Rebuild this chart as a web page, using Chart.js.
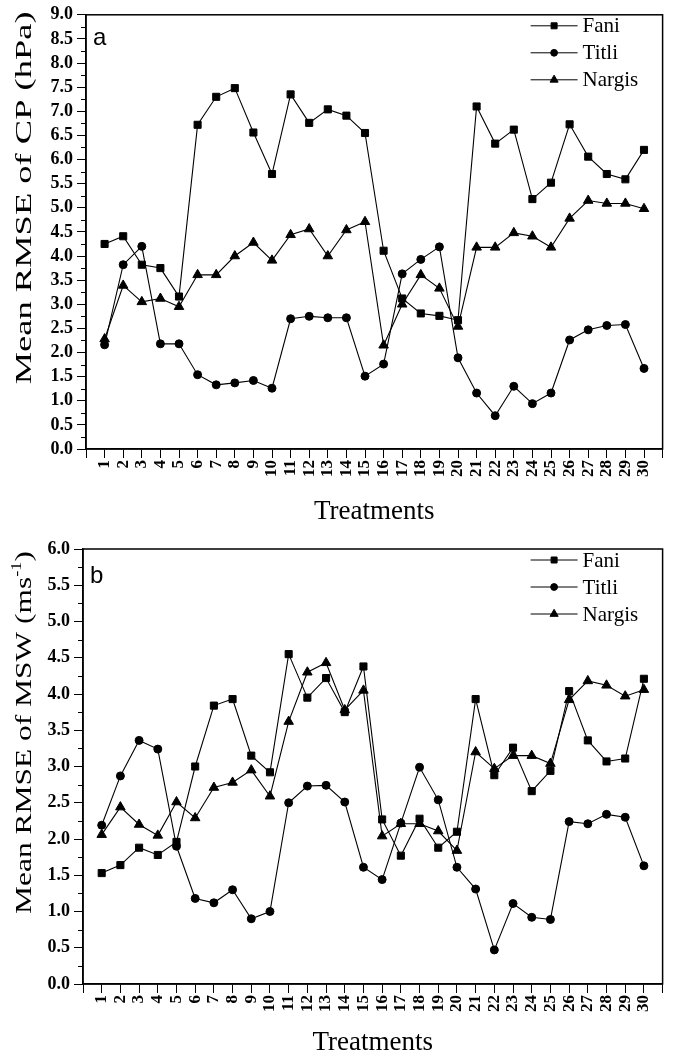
<!DOCTYPE html>
<html>
<head>
<meta charset="utf-8">
<script src="https://cdn.jsdelivr.net/npm/chart.js@4.4.1/dist/chart.umd.min.js"></script>
<style>
    html, body { margin: 0; padding: 0; background: #fff; }
    .panel { position: relative; width: 685px; }
    #panelA { height: 530px; }
    #panelB { height: 526px; }
</style>
</head>
<body>
<div class="panel" id="panelA"><canvas id="chartCP"></canvas></div>
<div class="panel" id="panelB"><canvas id="chartMSW"></canvas></div>
<script>
// ======================================================
// DATA
// ======================================================
const treatments = [1, 2, 3, 4, 5, 6, 7, 8, 9, 10, 11, 12, 13, 14, 15,
                    16, 17, 18, 19, 20, 21, 22, 23, 24, 25, 26, 27, 28, 29, 30];
const seriesNames = ['Fani', 'Titli', 'Nargis'];

// (a) Mean RMSE of CP (hPa)
const cpFani   = [4.25, 4.41, 3.82, 3.75, 3.16, 6.72, 7.30, 7.48, 6.56, 5.70,
                  7.35, 6.76, 7.04, 6.91, 6.55, 4.11, 3.12, 2.81, 2.76, 2.67,
                  7.10, 6.33, 6.62, 5.18, 5.52, 6.73, 6.06, 5.70, 5.59, 6.20];
const cpTitli  = [2.16, 3.82, 4.20, 2.18, 2.18, 1.54, 1.33, 1.37, 1.42, 1.26,
                  2.70, 2.75, 2.72, 2.72, 1.51, 1.76, 3.63, 3.93, 4.19, 1.89,
                  1.16, 0.69, 1.30, 0.94, 1.16, 2.26, 2.47, 2.56, 2.58, 1.67];
const cpNargis = [2.28, 3.39, 3.05, 3.12, 2.95, 3.61, 3.61, 4.00, 4.28, 3.91,
                  4.44, 4.56, 4.00, 4.54, 4.71, 2.15, 3.00, 3.61, 3.33, 2.54,
                  4.18, 4.18, 4.48, 4.41, 4.18, 4.78, 5.15, 5.09, 5.09, 4.98];

// (b) Mean RMSE of MSW (m/s)
const mswFani   = [1.53, 1.64, 1.88, 1.78, 1.96, 3.00, 3.84, 3.93, 3.15, 2.92,
                   4.55, 3.95, 4.22, 3.75, 4.38, 2.27, 1.77, 2.28, 1.88, 2.10,
                   3.93, 2.88, 3.26, 2.66, 2.94, 4.04, 3.36, 3.07, 3.11, 4.21];
const mswTitli  = [2.19, 2.87, 3.36, 3.24, 1.90, 1.18, 1.12, 1.30, 0.90, 1.00,
                   2.50, 2.73, 2.74, 2.51, 1.61, 1.44, 2.22, 2.99, 2.54, 1.61,
                   1.31, 0.47, 1.11, 0.92, 0.89, 2.24, 2.21, 2.34, 2.30, 1.63];
const mswNargis = [2.06, 2.44, 2.20, 2.05, 2.51, 2.29, 2.71, 2.78, 2.95, 2.59,
                   3.62, 4.30, 4.43, 3.78, 4.05, 2.04, 2.21, 2.21, 2.11, 1.84,
                   3.20, 2.97, 3.15, 3.15, 3.04, 3.92, 4.18, 4.12, 3.97, 4.06];

// ======================================================
// STYLE
// ======================================================
const pointStyles = ['rect', 'circle', 'triangle'];
const pointRadii = [5, 4, 5.5];
const SERIF = '"Liberation Serif", "Times New Roman", serif';

// box around the plot area
const frame = {
    id: 'frame',
    afterDraw(chart) {
        const { ctx, chartArea: a } = chart;
        ctx.save();
        ctx.strokeStyle = '#000';
        ctx.lineWidth = 1.5;
        ctx.strokeRect(a.left, a.top, a.right - a.left, a.bottom - a.top);
        ctx.restore();
    }
};

// short ticks between the labelled ones on y
const minorTicks = {
    id: 'minorTicks',
    afterDraw(chart) {
        const { ctx } = chart;
        const y = chart.scales.y;
        ctx.save();
        ctx.strokeStyle = '#000';
        ctx.lineWidth = 1;
        for (let v = y.min + 0.25; v < y.max; v += 0.5) {
            const py = Math.round(y.getPixelForValue(v)) + 0.5;
            ctx.beginPath();
            ctx.moveTo(y.right - 5, py);
            ctx.lineTo(y.right, py);
            ctx.stroke();
        }
        ctx.restore();
    }
};

// y title drawn by hand so it can be stretched and carry a superscript
const yTitle = {
    id: 'yTitle',
    afterDraw(chart, args, opts) {
        const { ctx, chartArea } = chart;
        const size = opts.size;
        const fontFor = p => `${p.sup ? Math.round(size * 0.6) : size}px ${SERIF}`;
        ctx.save();
        ctx.fillStyle = '#000';
        ctx.textBaseline = 'alphabetic';
        let total = 0;
        opts.parts.forEach(p => { ctx.font = fontFor(p); total += ctx.measureText(p.text).width; });
        ctx.translate(opts.x, (chartArea.top + chartArea.bottom) / 2 + opts.shift);
        ctx.rotate(-Math.PI / 2);
        ctx.scale(opts.stretch, 1);
        let x = -total / 2;
        opts.parts.forEach(p => {
            ctx.font = fontFor(p);
            ctx.fillText(p.text, x, p.sup ? -size * 0.4 : 0);
            x += ctx.measureText(p.text).width;
        });
        ctx.restore();
    }
};

// legend with line + marker, inside the plot, top right
const lineLegend = {
    id: 'lineLegend',
    afterDraw(chart) {
        const { ctx, chartArea } = chart;
        ctx.save();
        chart.data.datasets.forEach((ds, i) => {
            const y = chartArea.top + 11 + i * 27;
            const x0 = chartArea.right - 132;
            const x1 = x0 + 47;
            ctx.strokeStyle = '#000';
            ctx.fillStyle = '#000';
            ctx.lineWidth = 1;
            ctx.beginPath();
            ctx.moveTo(x0, y);
            ctx.lineTo(x1, y);
            ctx.stroke();
            Chart.helpers.drawPoint(ctx, {
                pointStyle: ds.pointStyle, radius: ds.pointRadius * 0.85, borderWidth: 1, rotation: 0
            }, (x0 + x1) / 2, y);
            ctx.font = `21px ${SERIF}`;
            ctx.textBaseline = 'middle';
            ctx.textAlign = 'left';
            ctx.fillText(ds.label, x1 + 5, y + 1);
        });
        ctx.restore();
    }
};

// panel letter
const panelLabel = {
    id: 'panelLabel',
    afterDraw(chart, args, opts) {
        const { ctx, chartArea } = chart;
        ctx.save();
        ctx.fillStyle = '#000';
        ctx.font = '24px "Liberation Sans", Arial, sans-serif';
        ctx.textBaseline = 'alphabetic';
        ctx.fillText(opts.text, chartArea.left + 7, chartArea.top + opts.dy);
        ctx.restore();
    }
};

const createChart = (canvasId, values, opts) => {
    return new Chart(document.getElementById(canvasId), {
        type: 'line',
        data: {
            datasets: seriesNames.map((name, i) => ({
                label: name,
                data: treatments.map((t, k) => ({ x: t, y: values[i][k] })),
                borderColor: '#000',
                backgroundColor: '#000',
                borderWidth: 1.1,
                pointStyle: pointStyles[i],
                pointRadius: pointRadii[i],
                pointBorderWidth: 1,
                pointBackgroundColor: '#000',
                pointBorderColor: '#000',
                tension: 0
            }))
        },
        options: {
            responsive: true,
            maintainAspectRatio: false,
            animation: false,
            layout: { padding: { top: opts.padTop, right: opts.padRight, left: 0, bottom: 0 } },
            scales: {
                x: {
                    type: 'linear',
                    min: 0,
                    max: 31,
                    afterFit: s => { s.height = opts.xHeight; },
                    ticks: {
                        stepSize: 1,
                        autoSkip: false,
                        minRotation: 90,
                        maxRotation: 90,
                        padding: 2,
                        color: '#000',
                        font: { family: SERIF, size: 17, weight: 'bold' },
                        callback: v => treatments.includes(v) ? String(v) : ''
                    },
                    grid: { drawOnChartArea: false, tickLength: 9, tickColor: '#000', tickWidth: 1 },
                    border: { color: '#000', width: 1.5 },
                    title: {
                        display: true,
                        text: 'Treatments',
                        color: '#000',
                        font: { family: SERIF, size: 27, lineHeight: 1 },
                        padding: { top: 0, bottom: opts.titlePad }
                    }
                },
                y: {
                    min: 0,
                    max: opts.yMax,
                    afterFit: s => { s.width = opts.yWidth; },
                    ticks: {
                        stepSize: 0.5,
                        autoSkip: false,
                        padding: 4,
                        color: '#000',
                        font: { family: SERIF, size: 18, weight: 'bold' },
                        callback: v => v.toFixed(1)
                    },
                    grid: { drawOnChartArea: false, tickLength: 9, tickColor: '#000', tickWidth: 1 },
                    border: { color: '#000', width: 1.5 }
                }
            },
            plugins: {
                legend: { display: false },
                tooltip: { enabled: false },
                yTitle: { parts: opts.yTitle, size: 24, stretch: opts.titleStretch, x: 31, shift: -34 },
                panelLabel: { text: opts.letter, dy: opts.letterDy }
            }
        },
        plugins: [frame, minorTicks, yTitle, lineLegend, panelLabel]
    });
};

createChart('chartCP', [cpFani, cpTitli, cpNargis], {
    letter: 'a', letterDy: 30,
    yMax: 9, yWidth: 86, xHeight: 81, padTop: 12, padRight: 5, titlePad: 5,
    titleStretch: 1.52,
    yTitle: [{ text: 'Mean RMSE of CP (hPa)' }]
});

createChart('chartMSW', [mswFani, mswTitli, mswNargis], {
    letter: 'b', letterDy: 34,
    yMax: 6, yWidth: 83, xHeight: 72, padTop: 19, padRight: 8, titlePad: 0,
    titleStretch: 1.31,
    yTitle: [{ text: 'Mean RMSE of MSW (ms' }, { text: '-1', sup: true }, { text: ')' }]
});
</script>
</body>
</html>
